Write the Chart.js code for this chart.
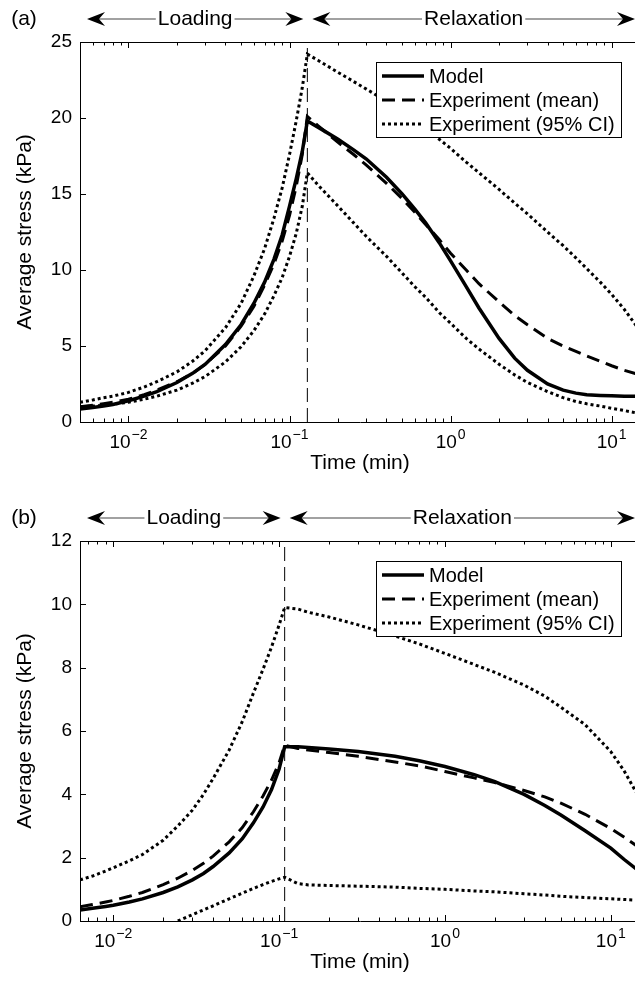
<!DOCTYPE html>
<html>
<head>
<meta charset="utf-8">
<script src="https://cdn.jsdelivr.net/npm/chart.js@4.4.1/dist/chart.umd.min.js"></script>
<style>
  html, body { margin: 0; padding: 0; background: #fff; overflow: hidden; }
  body { width: 635px; height: 982px; position: relative; }
  canvas { position: absolute; left: 0; }
  #chartA { top: 0; }
  #chartB { top: 499px; }
</style>
</head>
<body>
<canvas id="chartA" width="660" height="482"></canvas>
<canvas id="chartB" width="660" height="482"></canvas>
<script>
// ---- data ----
const seriesNames = ['Model', 'Experiment (mean)', 'Experiment (95% CI)'];
const xTickValues = [0.01, 0.1, 1, 10];

// panel (a)
const timeA = [0.005, 0.006, 0.007, 0.008, 0.01, 0.0125, 0.015, 0.02, 0.025, 0.03, 0.04, 0.05, 0.06, 0.07, 0.08, 0.09, 0.1, 0.11, 0.12, 0.129,
  0.15, 0.2, 0.25, 0.3, 0.4, 0.5, 0.6, 0.7, 0.85, 1, 1.25, 1.5, 2, 2.5, 3, 4, 5, 6, 7, 8.5, 10, 12, 15];
const modelA = [0.85, 0.95, 1.05, 1.15, 1.4, 1.7, 2.0, 2.6, 3.2, 3.8, 5.1, 6.4, 7.8, 9.2, 10.7, 12.3, 14.2, 16.0, 17.8, 19.8,
  19.4, 18.6, 17.9, 17.3, 16.1, 15.0, 14.0, 13.1, 11.8, 10.6, 8.9, 7.5, 5.5, 4.2, 3.4, 2.5, 2.1, 1.9, 1.8, 1.75, 1.72, 1.7, 1.7];
const meanA = [1.0, 1.1, 1.2, 1.3, 1.5, 1.8, 2.1, 2.65, 3.2, 3.8, 5.0, 6.3, 7.6, 9.0, 10.4, 11.9, 13.6, 15.5, 17.6, 20.1,
  19.5, 18.4, 17.6, 16.9, 15.7, 14.7, 13.8, 13.0, 12.0, 11.1, 10.0, 9.1, 7.9, 7.0, 6.4, 5.5, 5.0, 4.65, 4.35, 4.0, 3.7, 3.4, 3.1];
const ciUpperA = [1.3, 1.45, 1.6, 1.7, 1.95, 2.3, 2.65, 3.3, 4.0, 4.7, 6.2, 7.8, 9.6, 11.4, 13.4, 15.4, 17.6, 19.8, 22.0, 24.2,
  23.8, 23.0, 22.4, 21.9, 21.1, 20.4, 19.8, 19.3, 18.6, 18.0, 17.1, 16.4, 15.3, 14.4, 13.7, 12.5, 11.6, 10.8, 10.1, 9.2, 8.4, 7.4, 6.0];
const ciLowerA = [1.0, 1.05, 1.1, 1.17, 1.3, 1.5, 1.7, 2.1, 2.55, 3.0, 3.95, 4.95, 6.0, 7.1, 8.3, 9.5, 10.9, 12.4, 14.2, 16.4,
  15.6, 14.2, 13.1, 12.2, 10.9, 9.8, 8.9, 8.2, 7.2, 6.5, 5.5, 4.8, 3.8, 3.1, 2.6, 2.0, 1.6, 1.35, 1.2, 1.05, 0.9, 0.75, 0.55];
const yTicksA = [0, 5, 10, 15, 20, 25];
const peakTimeA = 0.129;

// panel (b)
const timeB = [0.0063, 0.0075, 0.009, 0.01, 0.0125, 0.015, 0.02, 0.0245, 0.03, 0.035, 0.04, 0.05, 0.06, 0.07, 0.08, 0.09, 0.1, 0.108,
  0.13, 0.15, 0.2, 0.3, 0.5, 0.7, 1, 1.5, 2, 3, 4, 5, 7, 10, 12, 15];
const modelB = [0.35, 0.4, 0.46, 0.5, 0.6, 0.7, 0.9, 1.08, 1.3, 1.5, 1.72, 2.15, 2.6, 3.1, 3.6, 4.15, 4.8, 5.5,
  5.5, 5.48, 5.43, 5.35, 5.2, 5.06, 4.88, 4.62, 4.4, 4.0, 3.65, 3.35, 2.85, 2.3, 1.95, 1.55];
const meanB = [0.45, 0.52, 0.6, 0.65, 0.78, 0.9, 1.15, 1.35, 1.6, 1.82, 2.05, 2.5, 2.95, 3.45, 3.95, 4.45, 5.0, 5.55,
  5.45, 5.4, 5.32, 5.2, 5.02, 4.9, 4.72, 4.52, 4.37, 4.12, 3.92, 3.72, 3.37, 2.92, 2.65, 2.3];
const ciUpperB = [1.3, 1.42, 1.58, 1.68, 1.9, 2.1, 2.55, 3.0, 3.5, 4.0, 4.5, 5.4, 6.3, 7.2, 7.95, 8.65, 9.35, 9.9,
  9.85, 9.75, 9.6, 9.35, 9.0, 8.75, 8.45, 8.1, 7.85, 7.45, 7.1, 6.75, 6.2, 5.35, 4.75, 3.85];
const ciLowerB = [null, null, null, null, null, null, null, 0, 0.2, 0.35, 0.48, 0.7, 0.88, 1.03, 1.15, 1.25, 1.33, 1.38,
  1.18, 1.14, 1.12, 1.1, 1.07, 1.03, 1.0, 0.95, 0.92, 0.86, 0.82, 0.78, 0.74, 0.7, 0.68, 0.65];
const yTicksB = [0, 2, 4, 6, 8, 10, 12];
const peakTimeB = 0.108;

// ---- helpers ----
const FONT = "'Liberation Sans', Arial, Helvetica, sans-serif";

function pts(t, v) {
  return t.map((x, i) => v[i] == null ? null : { x: x, y: v[i] }).filter(p => p);
}
function seg(ctx, x1, y1, x2, y2) {
  ctx.beginPath(); ctx.moveTo(x1, y1); ctx.lineTo(x2, y2); ctx.stroke();
}
function arrowHead(ctx, tip, y, dir) {
  // dir = -1 points left, +1 points right
  ctx.beginPath();
  ctx.moveTo(tip, y);
  ctx.lineTo(tip - dir * 18, y - 7);
  ctx.lineTo(tip - dir * 12, y);
  ctx.lineTo(tip - dir * 18, y + 7);
  ctx.closePath();
  ctx.fill();
}
function bracket(ctx, x1, x2, y, text) {
  ctx.font = '21px ' + FONT;
  const w = ctx.measureText(text).width;
  const mid = (x1 + x2) / 2;
  ctx.fillStyle = '#000';
  ctx.textAlign = 'center'; ctx.textBaseline = 'middle';
  ctx.fillText(text, mid, y);
  ctx.strokeStyle = '#444'; ctx.lineWidth = 1.2;
  seg(ctx, x1 + 12, y, mid - w / 2 - 2, y);
  seg(ctx, mid + w / 2 + 2, y, x2 - 12, y);
  arrowHead(ctx, x1, y, -1);
  arrowHead(ctx, x2, y, 1);
}

// axes box, inward ticks, x tick labels, annotations and legend
const decorPlugin = {
  id: 'decor',
  afterDatasetsDraw(chart, args, opts) {
    const ctx = chart.ctx;
    const a = chart.chartArea;
    const xs = chart.scales.x, ys = chart.scales.y;
    ctx.save();
    ctx.strokeStyle = '#000'; ctx.lineWidth = 1;
    seg(ctx, a.left, a.top + 0.5, a.right, a.top + 0.5);
    for (let e = -3; e <= 2; e++) {
      for (let m = 1; m < 10; m++) {
        const v = m * Math.pow(10, e);
        if (v < xs.min || v > xs.max) continue;
        const px = Math.round(xs.getPixelForValue(v)) + 0.5;
        const len = m === 1 ? 6 : 3.5;
        seg(ctx, px, a.bottom, px, a.bottom - len);
        seg(ctx, px, a.top, px, a.top + len);
      }
    }
    ys.ticks.forEach(t => {
      const py = Math.round(ys.getPixelForValue(t.value)) + 0.5;
      seg(ctx, a.left, py, a.left + 6, py);
    });

    // x tick labels as 10 with a raised exponent
    ctx.fillStyle = '#000';
    ctx.textBaseline = 'middle'; ctx.textAlign = 'left';
    xTickValues.forEach(v => {
      const px = xs.getPixelForValue(v);
      const ex = String(Math.round(Math.log10(v))).replace('-', '\u2212');
      ctx.font = '19px ' + FONT;
      const wb = ctx.measureText('10').width;
      ctx.font = '14px ' + FONT;
      const we = ctx.measureText(ex).width;
      const x0 = px - (wb + we + 1) / 2;
      ctx.font = '19px ' + FONT;
      ctx.fillText('10', x0, a.bottom + 21);
      ctx.font = '14px ' + FONT;
      ctx.fillText(ex, x0 + wb + 1, a.bottom + 13);
    });

    // legend
    const bx = a.left + 296, by = a.top + 20, bw = 245, bh = 75;
    ctx.fillStyle = '#fff';
    ctx.fillRect(bx, by, bw, bh);
    ctx.strokeStyle = '#000'; ctx.lineWidth = 1;
    ctx.strokeRect(bx + 0.5, by + 0.5, bw, bh);
    ctx.font = '20px ' + FONT;
    ctx.textAlign = 'left'; ctx.textBaseline = 'middle';
    let row = 0;
    chart.data.datasets.forEach(ds => {
      if (!ds.inLegend) return;
      const ly = by + 14 + row * 24;
      ctx.strokeStyle = '#000';
      ctx.lineWidth = ds.borderWidth;
      ctx.setLineDash(ds.borderDash || []);
      seg(ctx, bx + 6, ly, bx + 48, ly);
      ctx.setLineDash([]);
      ctx.fillStyle = '#000';
      ctx.fillText(ds.label, bx + 53, ly + 1);
      row++;
    });

    // panel tag and loading / relaxation arrows
    const ay = a.top - 23;
    ctx.fillStyle = '#000';
    ctx.font = '21px ' + FONT;
    ctx.textAlign = 'center'; ctx.textBaseline = 'middle';
    ctx.fillText(opts.tag, 24, ay);
    const pk = xs.getPixelForValue(opts.peak);
    bracket(ctx, a.left + 7, pk - 4, ay, 'Loading');
    bracket(ctx, pk + 5, 635, ay, 'Relaxation');
    ctx.restore();
  }
};

function makeChart(id, tag, t, model, mean, up, low, xMin, yTicks, peak) {
  const yMax = yTicks[yTicks.length - 1];
  const line = (label, data, width, dash, inLegend) => ({
    label: label, data: data, borderColor: '#000', backgroundColor: '#000',
    borderWidth: width, borderDash: dash, pointRadius: 0, tension: 0,
    fill: false, inLegend: inLegend
  });
  return new Chart(document.getElementById(id), {
    type: 'line',
    data: {
      datasets: [
        line('peak', [{ x: peak, y: 0 }, { x: peak, y: yMax }], 1, [14, 6], false),
        line(seriesNames[0], pts(t, model), 3.5, [], true),
        line(seriesNames[1], pts(t, mean), 3, [13, 7], true),
        line(seriesNames[2], pts(t, up), 3, [3, 3], true),
        line(seriesNames[2] + ' lower', pts(t, low), 3, [3, 3], false)
      ]
    },
    options: {
      responsive: false,
      animation: false,
      parsing: false,
      layout: { padding: { left: 0, top: 42, right: 20, bottom: 0 } },
      plugins: { legend: { display: false }, tooltip: { enabled: false }, decor: { tag: tag, peak: peak } },
      scales: {
        x: {
          type: 'logarithmic', min: xMin, max: 15,
          afterBuildTicks: s => { s.ticks = xTickValues.map(v => ({ value: v })); },
          afterFit: s => { s.height = 60; },
          ticks: { display: false },
          grid: { display: false, drawTicks: false },
          border: { display: true, color: '#000', width: 1 },
          title: { display: true, text: 'Time (min)', color: '#000', font: { family: FONT, size: 21 }, padding: { top: 0, bottom: 6 } }
        },
        y: {
          type: 'linear', min: 0, max: yMax,
          afterBuildTicks: s => { s.ticks = yTicks.map(v => ({ value: v })); },
          afterFit: s => { s.width = 80; },
          ticks: { color: '#000', font: { family: FONT, size: 19 }, padding: 8 },
          grid: { display: false, drawTicks: false },
          border: { display: true, color: '#000', width: 1 },
          title: { display: true, text: 'Average stress (kPa)', color: '#000', font: { family: FONT, size: 21 }, padding: { top: 13, bottom: 0 } }
        }
      }
    },
    plugins: [decorPlugin]
  });
}

makeChart('chartA', '(a)', timeA, modelA, meanA, ciUpperA, ciLowerA, 0.005, yTicksA, peakTimeA);
makeChart('chartB', '(b)', timeB, modelB, meanB, ciUpperB, ciLowerB, 0.0063, yTicksB, peakTimeB);
</script>
</body>
</html>
